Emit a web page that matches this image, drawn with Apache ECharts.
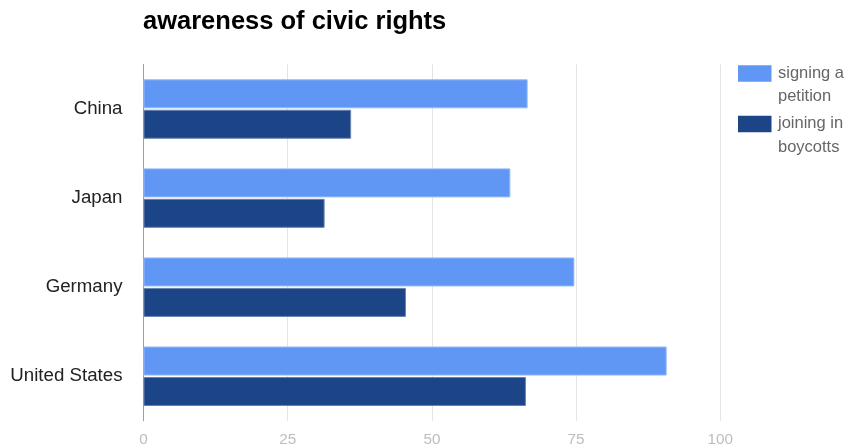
<!DOCTYPE html>
<html>
<head>
<meta charset="utf-8">
<title>awareness of civic rights</title>
<script src="https://cdn.jsdelivr.net/npm/echarts@6/dist/echarts.min.js"></script>
<style>
  html, body { margin: 0; padding: 0; background: #ffffff; }
  #chart { width: 845px; height: 447px; }
</style>
</head>
<body>
<div id="chart"></div>
<script>
// Countries, top to bottom
const countries = ['China', 'Japan', 'Germany', 'United States'];
// Share aware of each civic right (%)
const signingPetition = [66.6, 63.6, 74.7, 90.7];
const joiningBoycotts = [36.0, 31.4, 45.5, 66.3];
const seriesNames = ['signing a\npetition', 'joining in\nboycotts'];
// Value axis ticks
const xMin = 0, xMax = 100, xStep = 25;

const FONT = '"Liberation Sans", Arial, sans-serif';

// Legend swatch sits beside the first line of its two-line label:
// the icon box is as tall as the label, the filled rect occupies its upper part.
const LEGEND_LINE = 23.5;
const legendIcon = 'path://M0,0L0.05,0L0,0.05Z M0,3.8H33.5V20.3H0Z M35,47L34.95,47L35,46.95Z';

const chart = echarts.init(document.getElementById('chart'), null, { renderer: 'canvas' });

chart.setOption({
  backgroundColor: '#ffffff',
  animation: false,
  title: {
    text: 'awareness of civic rights',
    left: 143,
    top: 8.7,
    padding: 0,
    textStyle: { fontFamily: FONT, fontSize: 25.5, fontWeight: 'bold', color: '#000000' }
  },
  legend: {
    orient: 'vertical',
    left: 738,
    top: 61.5,
    padding: 0,
    itemGap: 3.4,
    itemWidth: 35,
    itemHeight: 47,
    icon: legendIcon,
    itemStyle: { borderWidth: 0 },
    textStyle: { fontFamily: FONT, fontSize: 16.5, color: '#666666', lineHeight: LEGEND_LINE },
    data: seriesNames
  },
  grid: { left: 143.5, right: 124.7, top: 64.5, bottom: 25.5, containLabel: false },
  xAxis: {
    type: 'value',
    min: xMin,
    max: xMax,
    interval: xStep,
    axisLine: { show: false },
    axisTick: { show: false },
    splitLine: { show: true, lineStyle: { color: '#e4e4e4', width: 1 } },
    axisLabel: { fontFamily: FONT, fontSize: 15.3, color: '#bdbdbd', margin: 11.2 }
  },
  yAxis: {
    type: 'category',
    inverse: true,
    data: countries,
    axisLine: { show: true, lineStyle: { color: '#9e9e9e', width: 1 } },
    axisTick: { show: false },
    splitLine: { show: false },
    axisLabel: { fontFamily: FONT, fontSize: 18.7, color: '#222222', margin: 21, padding: [3, 0, 0, 0] }
  },
  series: [
    {
      name: seriesNames[0],
      type: 'bar',
      data: signingPetition,
      barWidth: 29,
      barGap: '5%',
      itemStyle: { color: '#6097f5', borderColor: '#93b8f8', borderWidth: 1 }
    },
    {
      name: seriesNames[1],
      type: 'bar',
      data: joiningBoycotts,
      barWidth: 29,
      barGap: '5%',
      itemStyle: { color: '#1c4587', borderColor: '#6a83ad', borderWidth: 1 }
    }
  ]
});
</script>
</body>
</html>
